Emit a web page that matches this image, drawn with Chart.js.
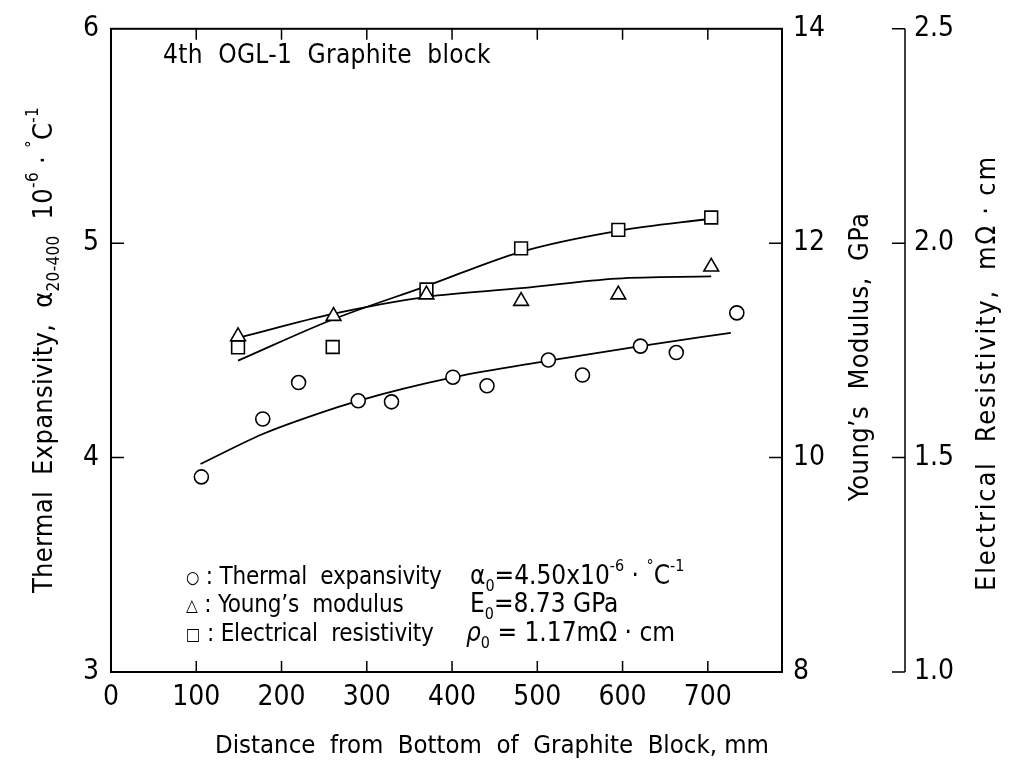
<!DOCTYPE html>
<html>
<head>
<meta charset="utf-8">
<title>4th OGL-1 Graphite block</title>
<script src="https://cdn.jsdelivr.net/npm/chart.js@4.4.1/dist/chart.umd.min.js"></script>
<style>
  html, body { margin: 0; padding: 0; background: #fff; }
</style>
</head>
<body>
<canvas id="chart" width="1012" height="765"></canvas>
<script>
// --- Data ---
const xTickValues = [0, 100, 200, 300, 400, 500, 600, 700];
const thermalTicks = [3, 4, 5, 6];
const youngTicks = [8, 10, 12, 14];
const resistTicks = [1.0, 1.5, 2.0, 2.5];

// thermal expansivity, 10^-6 /°C  (left axis)
const thermalX = [106, 178, 220, 290, 329, 401, 441, 513, 553, 621, 663, 734];
const thermalY = [3.91, 4.18, 4.35, 4.265, 4.26, 4.375, 4.335, 4.455, 4.385, 4.52, 4.49, 4.675];
const thermalFitX = [105, 178, 221, 290, 401, 510, 621, 727];
const thermalFitY = [3.97, 4.11, 4.175, 4.265, 4.374, 4.45, 4.52, 4.582];

// Young's modulus, GPa
const youngX = [149, 261, 370, 481, 595, 704];
const youngY = [11.13, 11.32, 11.52, 11.46, 11.52, 11.78];
const youngFitX = [151, 260, 370, 481, 593, 704];
const youngFitY = [11.12, 11.34, 11.50, 11.58, 11.67, 11.69];

// electrical resistivity, mOhm.cm
const resistX = [149, 260, 370, 481, 595, 704];
const resistY = [1.757, 1.758, 1.892, 1.988, 2.031, 2.06];
const resistFitX = [149, 260, 370, 481, 595, 704];
const resistFitY = [1.726, 1.822, 1.90, 1.98, 2.029, 2.057];

const FONT_FAMILY = '"Liberation Sans Narrow", "DejaVu Sans Condensed", "Liberation Sans", Arial, sans-serif';

const pairs = (xs, ys) => xs.map((x, i) => ({ x: x, y: ys[i] }));

// --- text helpers ---
function fontFor(kind, size) {
    let s = size;
    if (kind === 'sub' || kind === 'sup') s = Math.round(size * 0.62);
    if (kind === 'sym') s = Math.round(size * 0.7);
    return (kind === 'it' ? 'italic ' : '') + s + 'px ' + FONT_FAMILY;
}

function drawRich(ctx, parts, x, y, size, align, spacing) {
    ctx.letterSpacing = (spacing || 0) + 'px';
    const widths = parts.map(([t, k]) => {
        ctx.font = fontFor(k, size);
        return ctx.measureText(t).width;
    });
    const total = widths.reduce((a, b) => a + b, 0);
    let cx = align === 'center' ? x - total / 2 : x;
    parts.forEach(([t, k], i) => {
        ctx.font = fontFor(k, size);
        let dy = 0;
        if (k === 'sub') dy = size * 0.28;
        if (k === 'sup') dy = -size * 0.5;
        if (k === 'sym') dy = -size * 0.04;
        ctx.fillText(t, cx, y + dy);
        cx += widths[i];
    });
    ctx.letterSpacing = '0px';
}

function drawRotated(ctx, parts, cx, cy, size, spacing) {
    ctx.save();
    ctx.translate(cx, cy);
    ctx.rotate(-Math.PI / 2);
    drawRich(ctx, parts, 0, size * 0.36, size, 'center', spacing);
    ctx.restore();
}

// --- frame, tick marks and annotations ---
const decorations = {
    id: 'decorations',
    afterDraw(chart) {
        const { ctx, chartArea: a, scales } = chart;
        const sx = scales.x, sy = scales.y, sy2 = scales.y2, sy3 = scales.y3;
        ctx.save();
        ctx.strokeStyle = '#000';
        ctx.fillStyle = '#000';
        ctx.lineWidth = 2;
        ctx.strokeRect(a.left, a.top, a.right - a.left, a.bottom - a.top);

        ctx.lineWidth = 1.5;
        ctx.beginPath();
        xTickValues.forEach(v => {
            if (v === 0) return;
            const px = sx.getPixelForValue(v);
            ctx.moveTo(px, a.bottom); ctx.lineTo(px, a.bottom - 11);
            ctx.moveTo(px, a.top); ctx.lineTo(px, a.top + 11);
        });
        thermalTicks.slice(1, -1).forEach(v => {
            const py = sy.getPixelForValue(v);
            ctx.moveTo(a.left, py); ctx.lineTo(a.left + 13, py);
        });
        youngTicks.slice(1, -1).forEach(v => {
            const py = sy2.getPixelForValue(v);
            ctx.moveTo(a.right, py); ctx.lineTo(a.right - 13, py);
        });
        // resistivity axis line
        const rx = sy3.left;
        ctx.moveTo(rx, a.top); ctx.lineTo(rx, a.bottom);
        resistTicks.forEach(v => {
            const py = sy3.getPixelForValue(v);
            ctx.moveTo(rx, py); ctx.lineTo(rx - 13, py);
        });
        ctx.stroke();

        ctx.textBaseline = 'alphabetic';
        ctx.textAlign = 'left';

        // block label
        drawRich(ctx, [['4th  OGL-1  Graphite  block', '']], 163, 63, 26, 'left', 0.3);

        // legend
        const ls = 24, rs = 26;
        drawRich(ctx, [['○', 'sym'], [' : Thermal  expansivity', '']], 186, 584, ls, 'left', -0.2);
        drawRich(ctx, [['α', ''], ['0', 'sub'], ['=4.50x10', ''], ['-6', 'sup'], [' · ', ''], ['°', 'sup'], ['C', ''], ['-1', 'sup']], 470, 584, rs, 'left');
        drawRich(ctx, [['△', 'sym'], [' : Young\u2019s  modulus', '']], 186, 612, ls, 'left', -0.2);
        drawRich(ctx, [['E', ''], ['0', 'sub'], ['=8.73 GPa', '']], 470, 612, rs, 'left');
        drawRich(ctx, [['□', 'sym'], [' : Electrical  resistivity', '']], 186, 641, ls, 'left', -0.2);
        drawRich(ctx, [['ρ', 'it'], ['0', 'sub'], [' = 1.17mΩ · cm', '']], 466, 641, rs, 'left');

        // axis titles
        drawRich(ctx, [['Distance  from  Bottom  of  Graphite  Block, mm', '']], 492, 753, 25.5, 'center');
        drawRotated(ctx, [['Thermal  Expansivity,  ', ''], ['α', ''], ['20-400', 'sub'], ['  10', ''], ['-6', 'sup'],
            [' · ', ''], ['°', 'sup'], ['C', ''], ['-1', 'sup']], 42, 350, 27, 0.3);
        drawRotated(ctx, [['Young\u2019s  Modulus,  GPa', '']], 858, 357, 27, 0.4);
        drawRotated(ctx, [['Electrical  Resistivity,  mΩ · cm', '']], 985, 373, 27, 1.8);
        ctx.restore();
    }
};

function pointSet(data, style, radius, axis) {
    return {
        data: data, yAxisID: axis, showLine: false,
        pointStyle: style, pointRadius: radius, pointHoverRadius: radius,
        pointBackgroundColor: '#fff', pointBorderColor: '#000', pointBorderWidth: 1.6
    };
}

function fitSet(data, axis) {
    return {
        data: data, yAxisID: axis, showLine: true, pointRadius: 0,
        borderColor: '#000', borderWidth: 1.8, cubicInterpolationMode: 'monotone', fill: false
    };
}

const tickFont = { family: FONT_FAMILY, size: 28 };
const fixTicks = values => scale => { scale.ticks = values.map(v => ({ value: v })); };
const noGrid = { display: false, drawTicks: false };

new Chart(document.getElementById('chart'), {
    type: 'scatter',
    data: {
        datasets: [
            pointSet(pairs(thermalX, thermalY), 'circle', 7, 'y'),
            pointSet(pairs(youngX, youngY), 'triangle', 8.5, 'y2'),
            pointSet(pairs(resistX, resistY), 'rect', 9, 'y3'),
            fitSet(pairs(thermalFitX, thermalFitY), 'y'),
            fitSet(pairs(youngFitX, youngFitY), 'y2'),
            fitSet(pairs(resistFitX, resistFitY), 'y3')
        ]
    },
    options: {
        responsive: false,
        animation: false,
        events: [],
        layout: { padding: { top: 25, left: 0, right: 0, bottom: 0 } },
        plugins: { legend: { display: false }, tooltip: { enabled: false } },
        scales: {
            x: {
                type: 'linear', min: 0, max: 787,
                grid: noGrid, border: { display: false },
                afterBuildTicks: fixTicks(xTickValues),
                afterFit: s => { s.height = 93; },
                ticks: { font: tickFont, color: '#000', padding: 9, maxRotation: 0 }
            },
            y: {
                position: 'left', min: 3, max: 6,
                grid: noGrid, border: { display: false },
                afterBuildTicks: fixTicks(thermalTicks),
                afterFit: s => { s.width = 111; },
                ticks: { font: tickFont, color: '#000', padding: 12 }
            },
            y2: {
                position: 'right', min: 8, max: 14,
                grid: noGrid, border: { display: false },
                afterBuildTicks: fixTicks(youngTicks),
                afterFit: s => { s.width = 123; },
                ticks: { font: tickFont, color: '#000', padding: 11 }
            },
            y3: {
                position: 'right', min: 1.0, max: 2.5,
                grid: noGrid, border: { display: false },
                afterBuildTicks: fixTicks(resistTicks),
                afterFit: s => { s.width = 107; },
                ticks: { font: tickFont, color: '#000', padding: 9, callback: v => v.toFixed(1) }
            }
        }
    },
    plugins: [decorations]
});
</script>
</body>
</html>
